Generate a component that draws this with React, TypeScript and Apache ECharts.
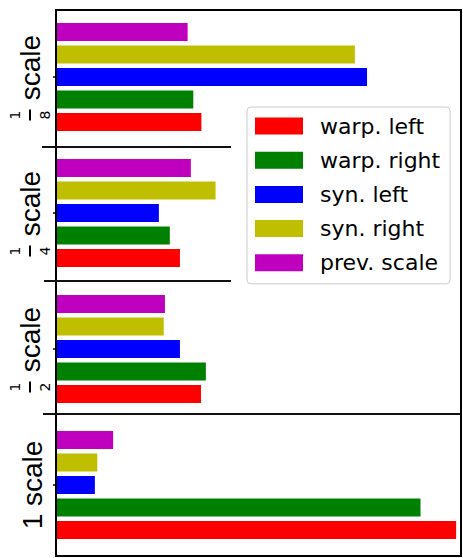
import React, { useEffect, useRef } from 'react';
import * as echarts from 'echarts';

const categories = ['1 scale', '1/2 scale', '1/4 scale', '1/8 scale'];
const seriesNames = ['warp. left', 'warp. right', 'syn. left', 'syn. right', 'prev. scale'];
const warpLeft = [98.8, 35.8, 30.6, 35.9];
const warpRight = [90.0, 37.0, 28.1, 33.9];
const synLeft = [9.6, 30.6, 25.4, 76.8];
const synRight = [10.2, 26.6, 39.4, 73.8];
const prevScale = [14.1, 26.9, 33.3, 32.5];
const seriesValues = [warpLeft, warpRight, synLeft, synRight, prevScale];
const colors = ['#ff0000', '#008000', '#0000ff', '#bfbf00', '#bf00bf'];

const labelFormatter = (v: string) => {
  const m = v.match(/^(\d+)\/(\d+) (.*)$/);
  if (m) {
    return `{num|${m[1]}}{fill| }\n{bar| }{big| ${m[3]}}\n{den|${m[2]}}{fill| }`;
  }
  return `{plain|${v}}`;
};

export default function App() {
  const ref = useRef<HTMLDivElement>(null);
  useEffect(() => {
    if (!ref.current) return;
    const chart = echarts.init(ref.current, undefined, { renderer: 'svg' });
    // ECharts stacks the first series at the top of a horizontal band, so add them in reverse
    const order = [4, 3, 2, 1, 0];
    const option: any = {
      animation: false,
      backgroundColor: '#fff',
      grid: { left: 56, top: 9, right: 2, bottom: 5, containLabel: false, show: false },
      xAxis: {
        type: 'value', min: 0, max: 100,
        axisLine: { show: false }, axisTick: { show: false }, axisLabel: { show: false }, splitLine: { show: false },
      },
      yAxis: {
        type: 'category', data: categories,
        axisLine: { show: false },
        axisTick: { show: true, alignWithLabel: true, length: 3, lineStyle: { color: '#000', width: 1.5 } },
        axisLabel: {
          rotate: 90, margin: 4, color: '#000', formatter: labelFormatter,
          rich: {
            plain: { fontFamily: 'Liberation Sans', fontSize: 28, lineHeight: 40, color: '#000' },
            big: { fontFamily: 'Liberation Sans', fontSize: 28, lineHeight: 16, width: 76, align: 'left', color: '#000' },
            num: { fontFamily: 'DejaVu Sans', fontSize: 14, lineHeight: 14, width: 12, align: 'center', color: '#000' },
            den: { fontFamily: 'DejaVu Sans', fontSize: 14, lineHeight: 14, width: 12, align: 'center', color: '#000' },
            fill: { fontSize: 12, lineHeight: 14, width: 76 },
            bar: { fontSize: 12, lineHeight: 16, width: 11, height: 2, backgroundColor: '#000' },
          },
        },
      },
      legend: {
        data: seriesNames, orient: 'vertical', left: 247, top: 107,
        icon: 'rect', itemWidth: 48, itemHeight: 17, itemGap: 12.2,
        padding: [8, 10, 10, 8],
        backgroundColor: '#fff', borderColor: '#cccccc', borderWidth: 1, borderRadius: 4,
        selectedMode: false,
        textStyle: { fontFamily: 'DejaVu Sans', fontSize: 22, lineHeight: 22, color: '#000', padding: [0, 0, 0, 12] },
      },
      series: order.map((i) => ({
        name: seriesNames[i], type: 'bar', data: seriesValues[i], barWidth: 18, barGap: '25%',
        itemStyle: { color: colors[i] },
      })),
      graphic: [
        { type: 'rect', shape: { x: 56, y: 10, width: 405, height: 546 }, style: { fill: 'none', stroke: '#000', lineWidth: 2 }, z: 10 },
        { type: 'line', shape: { x1: 42, y1: 147, x2: 231, y2: 147 }, style: { stroke: '#111', lineWidth: 2 }, z: 10 },
        { type: 'line', shape: { x1: 44, y1: 281, x2: 231, y2: 281 }, style: { stroke: '#111', lineWidth: 2 }, z: 10 },
        { type: 'line', shape: { x1: 43, y1: 414, x2: 461, y2: 414 }, style: { stroke: '#111', lineWidth: 2 }, z: 10 },
      ],
    };
    chart.setOption(option);
    return () => chart.dispose();
  }, []);
  return <div ref={ref} style={{ position: 'fixed', left: 0, top: 0, width: 463, height: 558 }} />;
}
